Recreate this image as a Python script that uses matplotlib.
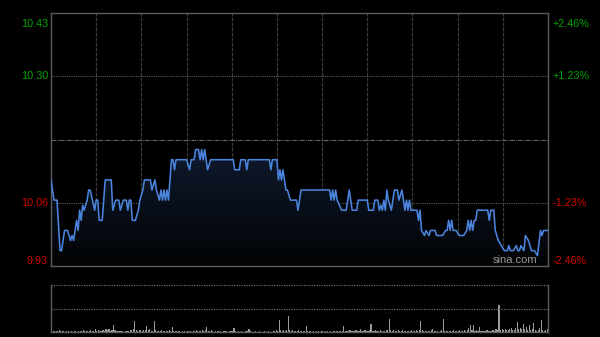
import matplotlib
matplotlib.use("Agg")
import matplotlib.pyplot as plt
import numpy as np
from matplotlib.colors import LinearSegmentedColormap
from matplotlib.patches import Polygon

plt.rcParams['font.family'] = ['Liberation Sans', 'DejaVu Sans']

prev_close = 10.18
pct_levels = [2.46, 1.23, -1.23, -2.46]
price_labels = ["10.43", "10.30", "10.06", "9.93"]
pct_labels = ["+2.46%", "+1.23%", "-1.23%", "-2.46%"]

# intraday price (minute index, price)
minutes = [0, 2, 4, 6, 7, 9, 11, 13, 14, 15, 17, 18, 19, 20, 21, 22, 24, 25, 26, 29,
           30, 31, 32, 34, 36, 40, 41, 43, 45, 46, 48, 50, 51, 52, 53, 54, 56, 58, 59, 61,
           62, 66, 67, 69, 70, 71, 72, 73, 74, 75, 76, 77, 78, 80, 81, 82, 83, 90, 92, 93,
           95, 96, 98, 99, 100, 101, 102, 103, 104, 106, 121, 122, 125, 126, 129, 130, 131, 145, 146, 147,
           150, 151, 152, 153, 154, 155, 156, 157, 159, 163, 164, 166, 185, 186, 187, 188, 189, 190, 193, 196,
           198, 200, 203, 204, 210, 211, 214, 215, 217, 218, 219, 220, 221, 222, 223, 224, 226, 228, 230, 231,
           233, 234, 235, 236, 237, 238, 239, 243, 244, 245, 246, 248, 249, 251, 252, 255, 256, 260, 262, 263,
           264, 265, 266, 267, 269, 271, 274, 276, 277, 278, 279, 280, 281, 282, 283, 284, 290, 291, 292, 294,
           295, 297, 299, 301, 303, 304, 305, 307, 309, 310, 311, 312, 314, 315, 317, 319, 321, 323, 325, 326,
           327, 330]
prices = [10.10, 10.06, 10.06, 9.96, 9.96, 10.00, 10.00, 9.98, 9.99, 9.98, 10.02, 10.00, 10.04, 10.02, 10.05, 10.04, 10.06, 10.08, 10.08, 10.04,
          10.06, 10.06, 10.02, 10.02, 10.10, 10.10, 10.04, 10.06, 10.06, 10.04, 10.06, 10.06, 10.04, 10.06, 10.06, 10.02, 10.02, 10.04, 10.06, 10.08,
          10.10, 10.10, 10.08, 10.10, 10.08, 10.07, 10.06, 10.08, 10.06, 10.08, 10.06, 10.08, 10.06, 10.14, 10.14, 10.12, 10.14, 10.14, 10.12, 10.14,
          10.14, 10.16, 10.16, 10.14, 10.16, 10.14, 10.16, 10.14, 10.12, 10.14, 10.14, 10.12, 10.12, 10.14, 10.14, 10.12, 10.14, 10.14, 10.12, 10.14,
          10.14, 10.10, 10.12, 10.10, 10.12, 10.10, 10.08, 10.08, 10.06, 10.06, 10.04, 10.08, 10.08, 10.06, 10.08, 10.06, 10.08, 10.06, 10.04, 10.04,
          10.08, 10.04, 10.04, 10.06, 10.06, 10.04, 10.04, 10.06, 10.06, 10.04, 10.05, 10.04, 10.06, 10.04, 10.08, 10.06, 10.04, 10.08, 10.08, 10.06,
          10.08, 10.06, 10.04, 10.06, 10.04, 10.06, 10.04, 10.04, 10.02, 10.04, 10.00, 9.99, 10.00, 9.99, 10.00, 10.00, 9.99, 9.99, 10.00, 10.00,
          10.02, 10.00, 10.02, 10.00, 10.00, 9.99, 9.99, 10.00, 10.02, 10.00, 10.02, 10.00, 10.02, 10.02, 10.04, 10.04, 10.04, 10.02, 10.04, 10.04,
          10.00, 9.98, 9.97, 9.96, 9.96, 9.97, 9.96, 9.96, 9.97, 9.96, 9.96, 9.97, 9.96, 9.99, 9.98, 9.96, 9.96, 9.95, 10.00, 9.99,
          10.00, 10.00]

# per-minute volume, one row per half hour
volumes = [
    12, 3, 2, 2, 3, 5, 3, 2, 2, 1, 2, 2, 1, 2, 1, 2, 2, 1, 3, 2, 2, 4, 2, 2, 3, 2, 4, 2, 3, 6,
    3, 4, 2, 3, 5, 3, 7, 4, 6, 3, 4, 15, 5, 3, 2, 3, 2, 2, 1, 2, 3, 2, 4, 5, 7, 23, 4, 3, 5, 4,
    3, 4, 5, 12, 4, 6, 3, 2, 23, 4, 3, 2, 3, 4, 2, 3, 2, 3, 4, 3, 10, 3, 2, 2, 3, 2, 1, 2, 2, 1,
    2, 3, 2, 1, 2, 3, 4, 2, 3, 2, 4, 3, 5, 10, 3, 2, 4, 2, 1, 2, 3, 2, 2, 1, 2, 3, 2, 1, 2, 3,
    2, 8, 2, 1, 2, 1, 2, 1, 1, 2, 3, 6, 2, 1, 1, 2, 1, 1, 2, 1, 1, 2, 1, 1, 2, 1, 1, 2, 3, 4,
    3, 25, 4, 3, 5, 3, 4, 34, 5, 3, 4, 2, 3, 2, 4, 2, 3, 2, 3, 12, 3, 2, 2, 1, 2, 1, 2, 2, 1, 2,
    2, 1, 2, 2, 1, 2, 1, 2, 3, 2, 2, 3, 2, 3, 12, 3, 2, 2, 4, 2, 3, 2, 4, 3, 2, 6, 3, 2, 4, 2,
    3, 4, 17, 3, 2, 4, 3, 2, 5, 3, 2, 3, 4, 5, 28, 5, 3, 4, 2, 3, 5, 3, 2, 4, 2, 3, 2, 2, 3, 4,
    3, 2, 4, 3, 5, 23, 4, 3, 2, 3, 2, 3, 4, 6, 2, 3, 2, 1, 3, 4, 28, 3, 2, 2, 3, 2, 3, 4, 3, 2,
    3, 4, 3, 2, 4, 3, 4, 8, 14, 5, 14, 3, 4, 2, 10, 3, 2, 3, 2, 4, 3, 2, 3, 4, 3, 7, 4, 57, 5, 6,
    4, 7, 5, 4, 6, 9, 5, 4, 8, 21, 6, 9, 7, 17, 6, 10, 5, 14, 4, 6, 20, 5, 3, 4, 9, 25, 4, 3, 5, 6,
]

bg = "#000000"
border = "#5c5c5c"
green = "#00a400"
red = "#d00000"

fig = plt.figure(figsize=(6, 3.37), dpi=100, facecolor=bg)
ax = fig.add_axes([51/600, 1 - 266/337, 497/600, 253/337], facecolor=bg)
vax = fig.add_axes([51/600, 1 - 332/337, 497/600, 47/337], facecolor=bg)

ylo = prev_close * (1 - pct_levels[0] / 100)
yhi = prev_close * (1 + pct_levels[0] / 100)
ax.set_xlim(0, 330)
ax.set_ylim(ylo, yhi)

# grid
for m in range(30, 330, 30):
    ax.axvline(m, color="#3a3a3a", lw=0.9, ls=(0, (3, 1)), zorder=1)
for p in pct_levels[1:3]:
    ax.axhline(prev_close * (1 + p / 100), color="#5a5a5a", lw=0.8, ls=(0, (1, 1)), zorder=1)
ax.axhline(prev_close, color="#666666", lw=0.8, ls=(0, (4, 1, 1, 1)), zorder=1)

# gradient fill under the price line
cmap = LinearSegmentedColormap.from_list("fill", ["#020304", "#0f1a2e"])
grad = np.linspace(0, 1, 256).reshape(-1, 1)
im = ax.imshow(grad, extent=[0, 330, ylo, max(prices)], origin="lower",
               aspect="auto", cmap=cmap, zorder=2)
poly = Polygon([(minutes[0], ylo)] + list(zip(minutes, prices)) + [(minutes[-1], ylo)],
               closed=True, facecolor="none", edgecolor="none", transform=ax.transData)
ax.add_patch(poly)
im.set_clip_path(poly)

ax.plot(minutes, prices, color="#4a84dc", lw=1.15, zorder=3)

ax.set_xticks([])
ax.set_yticks([])
for s in ax.spines.values():
    s.set_color(border)
    s.set_linewidth(1)

# price / percent labels
for i, p in enumerate(pct_levels):
    y = prev_close * (1 + p / 100)
    col = green if p > 0 else red
    va = "center"
    dy = 0
    if i == 0:
        va = "top"
        dy = -0.012
    elif i == len(pct_levels) - 1:
        va = "bottom"
    ax.text(-0.006, y + dy, price_labels[i], transform=ax.get_yaxis_transform(),
            ha="right", va=va, color=col, fontsize=7.8)
    ax.text(1.01, y + dy, pct_labels[i], transform=ax.get_yaxis_transform(),
            ha="left", va=va, color=col, fontsize=7.8)

ax.text(0.978, 0.005, "sina.com", transform=ax.transAxes, ha="right", va="bottom",
        color="#9a9a9a", fontsize=8, zorder=4)

# volume panel
vax.set_xlim(0, 330)
vax.set_ylim(0, 100)
vax.bar(np.arange(len(volumes)) + 0.5, volumes, width=0.75, color="#9a9a9a", linewidth=0)
vax.axhline(100, color="#6a6a6a", lw=0.9, ls=(0, (1, 1)), clip_on=False)
vax.axhline(50, color="#6a6a6a", lw=0.9, ls=(0, (1, 1)))
vax.set_xticks([])
vax.set_yticks([])
vax.spines["top"].set_visible(False)
for k in ["left", "right", "bottom"]:
    vax.spines[k].set_color(border)
    vax.spines[k].set_linewidth(1)

fig.savefig("out.png", dpi=100, facecolor=bg)
